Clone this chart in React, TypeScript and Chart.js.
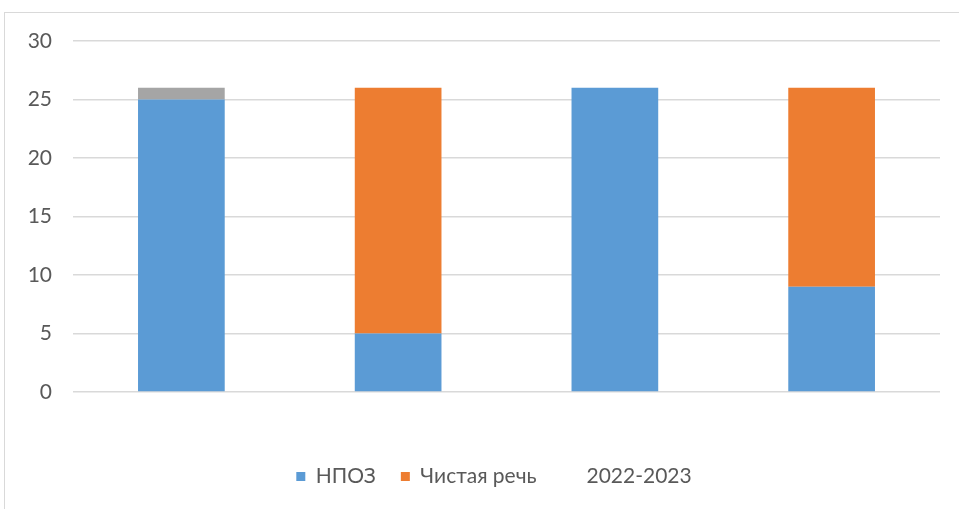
import React, { useEffect, useRef } from "react";
import { Chart, registerables } from "chart.js";

Chart.register(...registerables);

const categories = ["1", "2", "3", "4"];
const npozValues = [25, 5, 26, 9];
const speechValues = [0, 21, 0, 17];
const periodValues = [1, 0, 0, 0];
const yTicks = [0, 5, 10, 15, 20, 25, 30];

const shiftLegend = {
  id: "shiftLegend",
  afterLayout(chart: any) {
    const l = chart.legend;
    if (l) {
      l.left += 24;
      l.right += 24;
    }
  },
};

export default function App() {
  const ref = useRef<HTMLCanvasElement | null>(null);

  useEffect(() => {
    if (!ref.current) return;
    const font = "Lato, 'Liberation Sans', sans-serif";
    const chart = new Chart(ref.current, {
      type: "bar",
      data: {
        labels: categories,
        datasets: [
          { label: "НПОЗ", data: npozValues, backgroundColor: "#5b9bd5", barPercentage: 0.8, categoryPercentage: 0.5 },
          { label: "Чистая речь", data: speechValues, backgroundColor: "#ed7d31", barPercentage: 0.8, categoryPercentage: 0.5 },
          { label: "2022-2023", data: periodValues, backgroundColor: "#a5a5a5", barPercentage: 0.8, categoryPercentage: 0.5 },
        ],
      },
      plugins: [shiftLegend],
      options: {
        animation: false,
        responsive: false,
        layout: { padding: { top: 41, right: 19, bottom: 12, left: 0 } },
        plugins: {
          tooltip: { enabled: false },
          legend: {
            position: "bottom",
            labels: {
              boxWidth: 9,
              boxHeight: 9,
              padding: 25,
              color: "#595959",
              font: { family: font, size: 21 },
              generateLabels: (c) => {
                const items = Chart.defaults.plugins.legend.labels.generateLabels(c);
                return items.map((it, i) =>
                  i === 2 ? { ...it, text: " 2022-2023", fillStyle: "rgba(0,0,0,0)", strokeStyle: "rgba(0,0,0,0)" } : it
                );
              },
            },
          },
        },
        scales: {
          x: {
            stacked: true,
            grid: { display: false },
            border: { display: false },
            ticks: { display: false },
            afterFit: (s: any) => { s.height = 49; },
          },
          y: {
            stacked: true,
            min: 0,
            max: 30,
            afterBuildTicks: (s: any) => { s.ticks = yTicks.map((v) => ({ value: v })); },
            afterFit: (s: any) => { s.width = 73; },
            grid: { color: "#d9d9d9", lineWidth: 1.5, drawTicks: false },
            border: { display: false },
            ticks: { padding: 21, color: "#595959", font: { family: font, size: 21 } },
          },
        },
      },
    });
    return () => chart.destroy();
  }, []);

  return (
    <div style={{ position: "fixed", left: 0, top: 0, width: 959, height: 509, overflow: "hidden", background: "#fff" }}>
      <div style={{ position: "absolute", left: 4, top: 12, width: 1100, height: 600, border: "1.5px solid #d9d9d9" }} />
      <canvas ref={ref} width={959} height={509} style={{ position: "absolute", left: 0, top: 0, width: 959, height: 509 }} />
    </div>
  );
}
